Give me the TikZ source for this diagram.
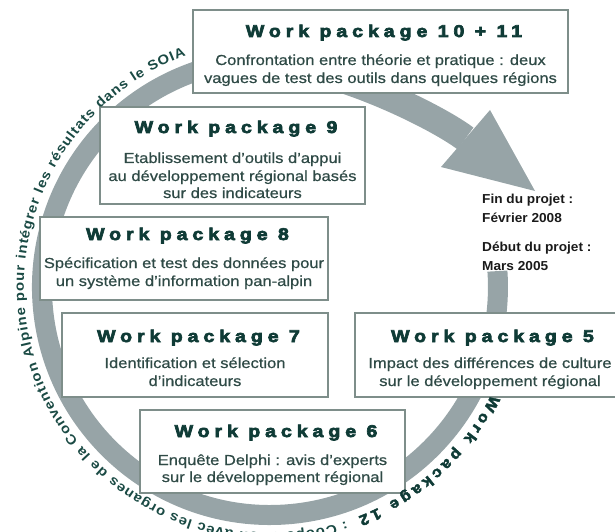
\documentclass[tikz,border=0pt]{standalone}
\usepackage{fontspec}
\setmainfont{Liberation Sans}
\usetikzlibrary{decorations.text}
\newfontfamily\titlefam[LetterSpace=29,FakeStretch=1.15,FakeBold=4]{Liberation Sans Bold}
\newfontfamily\bodyfam[FakeStretch=1.14,FakeBold=0.6]{Liberation Sans}
\newfontfamily\notefam[FakeStretch=1.05]{Liberation Sans Bold}
\newfontfamily\curvefam[FakeStretch=1.1]{Liberation Sans Bold}
\newfontfamily\curvettlfam[FakeStretch=1.1,FakeBold=3]{Liberation Sans Bold}
\definecolor{ringcol}{HTML}{97A4A7}
\definecolor{boxline}{HTML}{7E8E8A}
\definecolor{titlecol}{HTML}{0F3B36}
\definecolor{bodycol}{HTML}{2F4A46}
\definecolor{curvecol}{HTML}{1A4A44}
\definecolor{notecol}{HTML}{1A1A1A}
\newcommand\curvefont{\curvefam\fontsize{13.5}{16}\selectfont\color{curvecol}}
\newcommand\curvettlfont{\curvettlfam\fontsize{15}{18}\selectfont\color{titlecol}}
\tikzset{
  wpbox/.style={draw=boxline, line width=1.2pt, fill=white, inner sep=0pt},
  ttl/.style={anchor=base, inner sep=0pt, text=titlecol, font=\titlefam\fontsize{17}{19}\selectfont},
  bdy/.style={anchor=base, inner sep=0pt, text=bodycol, font=\bodyfam\fontsize{14.5}{16}\selectfont},
  note/.style={anchor=base west, inner sep=0pt, text=notecol, font=\notefam\fontsize{13}{15}\selectfont},
  ringline/.style={draw=ringcol, line width=20pt},
}
\begin{document}
\begin{tikzpicture}[x=1pt,y=1pt]
\useasboundingbox (0,0) rectangle (615,531);
\clip (0,0) rectangle (615,531);
% ring
\coordinate (rs) at (497.4,259.9);
\draw[ringline] (rs) arc[start angle=4, end angle=-275, radius=228];
% arrow shaft and head
\coordinate (s0) at (270,466);
\coordinate (s1) at (465.5,392.5);
\draw[draw=ringcol, line width=27pt] (s0) .. controls (330,466) and (433.5,416.5) .. (s1);
\coordinate (h1) at (441,364);
\coordinate (h2) at (535,340);
\coordinate (h3) at (490,421);
\fill[ringcol] (h1) -- (h2) -- (h3) -- cycle;
% boxes
\node[wpbox, minimum width=375, minimum height=83] (b10) at (380.5,479.5) {};
\node[wpbox, minimum width=265, minimum height=97] (b9) at (232.5,375.5) {};
\node[wpbox, minimum width=288, minimum height=83] (b8) at (184,272.5) {};
\node[wpbox, minimum width=266, minimum height=84] (b7) at (195,176) {};
\node[wpbox, minimum width=265, minimum height=83] (b6) at (272.5,79.5) {};
\node[wpbox, minimum width=270, minimum height=84] (b5) at (490,176) {};
% WP 10 + 11
\node[ttl] (t10) at (384,494) {Work package 10 + 11};
\node[bdy] (l10a) at (380.5,466) {Confrontation entre théorie et pratique : deux};
\node[bdy] (l10b) at (380.5,448) {vagues de test des outils dans quelques régions};
% WP 9
\node[ttl] (t9) at (236,398) {Work package 9};
\node[bdy] (l9a) at (232.5,368) {Etablissement d’outils d’appui};
\node[bdy] (l9b) at (232.5,350) {au développement régional basés};
\node[bdy] (l9c) at (232.5,333) {sur des indicateurs};
% WP 8
\node[ttl] (t8) at (187.5,291) {Work package 8};
\node[bdy] (l8a) at (184,263) {Spécification et test des données pour};
\node[bdy] (l8b) at (184,245) {un système d’information pan-alpin};
% WP 7
\node[ttl] (t7) at (198.5,189) {Work package 7};
\node[bdy] (l7a) at (195,163) {Identification et sélection};
\node[bdy] (l7b) at (195,145) {d’indicateurs};
% WP 6
\node[ttl] (t6) at (276,94) {Work package 6};
\node[bdy] (l6a) at (272.5,66) {Enquête Delphi : avis d’experts};
\node[bdy] (l6b) at (272.5,49) {sur le développement régional};
% WP 5
\node[ttl] (t5) at (492.5,189) {Work package 5};
\node[bdy] (l5a) at (490,163) {Impact des différences de culture};
\node[bdy] (l5b) at (490,145) {sur le développement régional};
% project dates
\node[note] (n1) at (482,328) {Fin du projet :};
\node[note] (n2) at (482,309) {Février 2008};
\node[note] (n3) at (482,280) {Début du projet :};
\node[note] (n4) at (482,261) {Mars 2005};
% curved text
\coordinate (cs) at (491.1,136.2);
\path[decorate, decoration={text along path, text align={fit to path},
  text={|\curvettlfont|Work package 12}}]
  (cs) arc[start angle=-26, end angle=-69, radius=246];
\coordinate (cm) at (346.0,10.0);
\path[decorate, decoration={text along path, text align={fit to path},
  text={|\curvefont|: Coopération avec les organes de la Convention Alpine pour intégrer les résultats dans le SOIA}}]
  (cm) arc[start angle=-72, end angle=-250, radius=246];
\end{tikzpicture}
\end{document}
